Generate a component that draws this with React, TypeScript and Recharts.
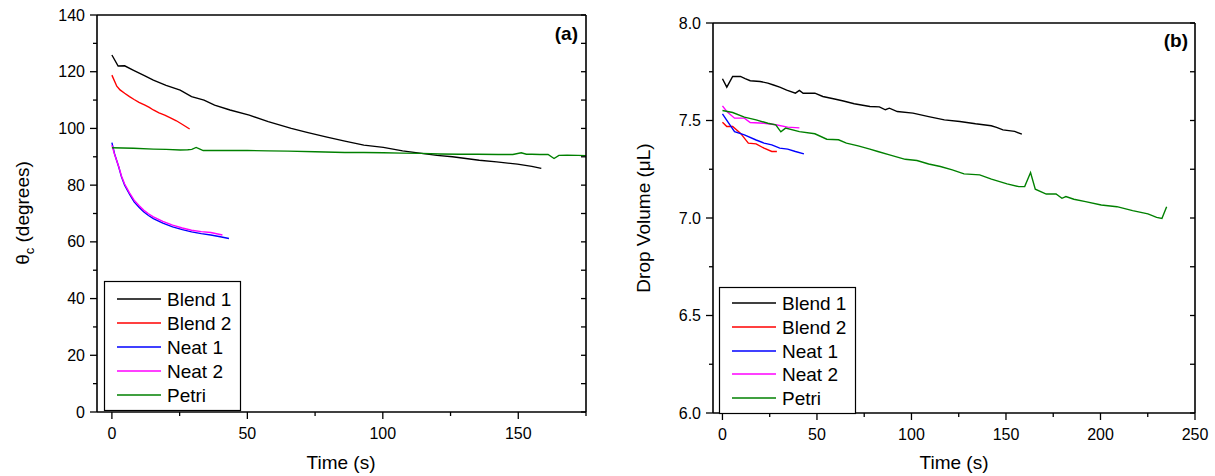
import React from "react";
import { LineChart, Line, XAxis, YAxis } from "recharts";

const FONT = "'Liberation Sans', Arial, Helvetica, sans-serif";

// ---- panel (a): contact angle vs time ----
const blend1AngleT = [0, 2.3, 4.7, 8, 12, 15.3, 20, 25.2, 29.4, 34, 37.9, 43.6, 50.7, 57.7, 66.2, 72, 79, 86, 93, 100.2, 107.3, 114.3, 120, 125.7, 135.6, 142, 149.7, 155, 158.5];
const blend1Angle = [125.9, 122, 122.1, 120.5, 118.6, 117, 115.2, 113.5, 111.2, 110, 108.2, 106.5, 104.7, 102.4, 100, 98.6, 97, 95.5, 94.1, 93.3, 92.1, 91.2, 90.5, 90, 88.8, 88.2, 87.4, 86.6, 85.9];

const blend2AngleT = [0, 1.8, 3, 4.7, 6.5, 8.2, 10, 12.2, 13.8, 15.3, 17.4, 19.5, 21.6, 23.8, 26.2, 28.7];
const blend2Angle = [118.8, 114.9, 113.6, 112.4, 111.2, 110.2, 109.2, 108.2, 107.4, 106.5, 105.5, 104.7, 103.7, 102.7, 101.3, 99.8];

const neat1AngleT = [0, 1, 2.5, 3.5, 4.7, 6.5, 8.2, 10, 11.7, 13.5, 15.3, 18.8, 22.4, 26, 29.4, 33, 36.5, 40, 43.2];
const neat1Angle = [95, 91, 86.5, 83, 80, 76.8, 74.1, 72.2, 70.6, 69.3, 68.2, 66.6, 65.3, 64.3, 63.5, 62.9, 62.4, 61.8, 61.2];

const neat2AngleT = [0, 1, 2.5, 3.5, 4.7, 6.5, 8.2, 10, 11.7, 13.5, 15.3, 18.8, 22.4, 26, 29.4, 33, 36.5, 40.8];
const neat2Angle = [94.1, 90.8, 86.6, 83.3, 80.4, 77.3, 74.7, 72.8, 71.2, 69.9, 68.8, 67.2, 65.9, 64.9, 64.1, 63.6, 63.3, 62.4];

const petriAngleT = [0, 8, 15.3, 20, 25.2, 28, 29.5, 31.1, 32.5, 33.7, 40, 50, 57.7, 65, 75, 86, 93, 100.2, 107, 114.3, 121, 128.5, 135, 142.6, 148, 151.1, 153, 155, 158, 161, 163.2, 165, 168, 172, 175];
const petriAngle = [93.2, 93, 92.7, 92.6, 92.4, 92.5, 92.6, 93.3, 92.7, 92.2, 92.2, 92.2, 92.1, 92, 91.8, 91.5, 91.5, 91.4, 91.3, 91.2, 91, 90.9, 90.9, 90.8, 90.8, 91.4, 90.9, 90.9, 90.8, 90.8, 89.4, 90.5, 90.6, 90.5, 90.4];

// ---- panel (b): drop volume vs time ----
const blend1VolT = [0, 2.3, 5.4, 9.5, 12, 14.7, 19.9, 24, 27, 30.3, 34, 38.6, 40.7, 42.7, 48.9, 53.1, 59.3, 64, 69.7, 78, 83, 86.2, 88.3, 92.5, 100.8, 109.1, 117.4, 125.6, 133.9, 142.2, 145, 148.4, 154.6, 158.4];
const blend1Vol = [7.714, 7.671, 7.726, 7.726, 7.715, 7.704, 7.7, 7.692, 7.682, 7.671, 7.656, 7.64, 7.654, 7.64, 7.64, 7.623, 7.61, 7.6, 7.586, 7.572, 7.57, 7.555, 7.563, 7.546, 7.538, 7.52, 7.503, 7.495, 7.483, 7.473, 7.465, 7.452, 7.444, 7.43];

const blend2VolT = [0, 2.3, 5.4, 9.5, 13.7, 17.8, 22, 26.1, 28.8];
const blend2Vol = [7.491, 7.469, 7.469, 7.435, 7.384, 7.38, 7.358, 7.341, 7.341];

const neat1VolT = [0, 3.3, 6.4, 11.6, 17.8, 22, 26.1, 30.3, 34.5, 38.6, 43.1];
const neat1Vol = [7.534, 7.486, 7.443, 7.426, 7.4, 7.384, 7.375, 7.358, 7.353, 7.341, 7.329];

const neat2VolT = [0, 2.3, 6.4, 11.6, 14.7, 22, 28.2, 34.5, 40.7];
const neat2Vol = [7.575, 7.546, 7.512, 7.512, 7.49, 7.486, 7.478, 7.466, 7.462];

const petriVolT = [0, 5.4, 11.6, 17.8, 24, 28.2, 30.9, 33.4, 40.7, 48.9, 55.2, 61.4, 65.6, 71.8, 78, 82.2, 88.4, 96.7, 102.9, 109.1, 115.3, 121.6, 127.8, 136.1, 142.3, 150.6, 156.8, 159.9, 163, 165.5, 171.3, 176.5, 179.6, 181.7, 185.9, 192.1, 200.4, 208.7, 217, 225.1, 229.7, 232.5, 235];
const petriVol = [7.551, 7.541, 7.517, 7.503, 7.486, 7.478, 7.442, 7.461, 7.443, 7.432, 7.404, 7.401, 7.384, 7.37, 7.353, 7.341, 7.324, 7.301, 7.295, 7.277, 7.264, 7.247, 7.226, 7.221, 7.199, 7.175, 7.161, 7.161, 7.233, 7.148, 7.123, 7.123, 7.101, 7.11, 7.096, 7.084, 7.067, 7.058, 7.038, 7.021, 7.003, 6.998, 7.058];

const seriesNames = ["Blend 1", "Blend 2", "Neat 1", "Neat 2", "Petri"];
const seriesColors = ["#000000", "#ff0000", "#0000ff", "#ff00ff", "#008000"];

const timeTicksA = [0, 25, 50, 75, 100, 125, 150, 175];
const timeLabelsA = [0, 50, 100, 150];
const angleTicks = [0, 10, 20, 30, 40, 50, 60, 70, 80, 90, 100, 110, 120, 130, 140];
const angleLabels = [0, 20, 40, 60, 80, 100, 120, 140];

const timeTicksB = [0, 25, 50, 75, 100, 125, 150, 175, 200, 225, 250];
const timeLabelsB = [0, 50, 100, 150, 200, 250];
const volTicks = [6.0, 6.25, 6.5, 6.75, 7.0, 7.25, 7.5, 7.75, 8.0];
const volLabels = [6.0, 6.5, 7.0, 7.5, 8.0];

const zip = (t: number[], v: number[]) => t.map((x, i) => ({ t: x, v: v[i] }));

const anglesData = [
  zip(blend1AngleT, blend1Angle),
  zip(blend2AngleT, blend2Angle),
  zip(neat1AngleT, neat1Angle),
  zip(neat2AngleT, neat2Angle),
  zip(petriAngleT, petriAngle),
];
const volumeData = [
  zip(blend1VolT, blend1Vol),
  zip(blend2VolT, blend2Vol),
  zip(neat1VolT, neat1Vol),
  zip(neat2VolT, neat2Vol),
  zip(petriVolT, petriVol),
];

const AXIS = { stroke: "#000", strokeWidth: 1.6 };
const TICK_TEXT = { fontSize: 16, fill: "#000", fontFamily: FONT };

// axis area sizes; the tick renderers draw from the axis line outward/inward themselves
const X_H = 40;
const Y_W = 50;
const FRAME = 10;

const bottomTick = (labels: number[], fmt: (v: number) => string) => (p: any) => {
  const major = labels.includes(p.payload.value);
  return (
    <g key={`b-${p.index}`}>
      <line x1={p.x} x2={p.x} y1={p.y} y2={p.y + (major ? 7 : 4)} stroke="#000" strokeWidth={1.3} />
      {major && (
        <text x={p.x} y={p.y + 26.5} textAnchor="middle" {...TICK_TEXT}>
          {fmt(p.payload.value)}
        </text>
      )}
    </g>
  );
};

const leftTick = (labels: number[], fmt: (v: number) => string) => (p: any) => {
  const major = labels.includes(p.payload.value);
  return (
    <g key={`l-${p.index}`}>
      <line x1={p.x} x2={p.x - (major ? 7 : 4)} y1={p.y} y2={p.y} stroke="#000" strokeWidth={1.3} />
      {major && (
        <text x={p.x - 12} y={p.y + 5.5} textAnchor="end" {...TICK_TEXT}>
          {fmt(p.payload.value)}
        </text>
      )}
    </g>
  );
};

// inner ticks for the top and right frame lines
const topTick = (p: any) => (
  <line key={`t-${p.index}`} x1={p.x} x2={p.x} y1={p.y} y2={p.y + 5} stroke="#000" strokeWidth={1.3} />
);
const rightTick = (p: any) => (
  <line key={`r-${p.index}`} x1={p.x} x2={p.x - 5} y1={p.y} y2={p.y} stroke="#000" strokeWidth={1.3} />
);

function LegendBox({ left, top, rows }: { left: number; top: number; rows: number[] }) {
  return (
    <svg
      width={137}
      height={rows[4] + 16}
      style={{ position: "absolute", left, top, overflow: "visible" }}
    >
      <rect x={0.5} y={0.5} width={136} height={rows[4] + 15} fill="#fff" stroke="#000" strokeWidth={1.2} />
      {seriesNames.map((name, i) => (
        <g key={name}>
          <line x1={13} x2={57} y1={rows[i]} y2={rows[i]} stroke={seriesColors[i]} strokeWidth={1.5} />
          <text x={63} y={rows[i] + 7} fontSize={19} fontFamily={FONT} fill="#000">
            {name}
          </text>
        </g>
      ))}
    </svg>
  );
}

function Panel({
  left, width, plot, data, xDomain, xTicks, xLabels, yDomain, yTicks, yLabels, yFmt,
}: any) {
  const margin = {
    top: plot.top - FRAME,
    left: plot.left - Y_W,
    right: plot.right - FRAME,
    bottom: plot.bottom - X_H,
  };
  return (
    <div style={{ position: "absolute", left, top: 0 }}>
      <LineChart width={width} height={476} margin={margin}>
        <XAxis
          xAxisId="b" dataKey="t" type="number" domain={xDomain} ticks={xTicks} interval={0}
          allowDataOverflow height={X_H} tickSize={0} tickMargin={0} axisLine={AXIS} tickLine={false}
          tick={bottomTick(xLabels, (v) => String(v))}
        />
        <XAxis
          xAxisId="top" orientation="top" type="number" domain={xDomain} ticks={xTicks} interval={0}
          allowDataOverflow height={FRAME} tickSize={0} tickMargin={0} axisLine={AXIS} tickLine={false}
          tick={topTick}
        />
        <YAxis
          yAxisId="l" type="number" domain={yDomain} ticks={yTicks} interval={0}
          allowDataOverflow width={Y_W} tickSize={0} tickMargin={0} axisLine={AXIS} tickLine={false}
          tick={leftTick(yLabels, yFmt)}
        />
        <YAxis
          yAxisId="r" orientation="right" type="number" domain={yDomain} ticks={yTicks} interval={0}
          allowDataOverflow width={FRAME} tickSize={0} tickMargin={0} axisLine={AXIS} tickLine={false}
          tick={rightTick}
        />
        {data.map((d: any[], i: number) => (
          <Line
            key={seriesNames[i]}
            xAxisId="b"
            yAxisId="l"
            data={d}
            dataKey="v"
            stroke={seriesColors[i]}
            strokeWidth={1.4}
            dot={false}
            activeDot={false}
            isAnimationActive={false}
          />
        ))}
      </LineChart>
    </div>
  );
}

export default function App() {
  return (
    <div
      style={{
        position: "absolute", left: 0, top: 0, width: 1215, height: 476,
        background: "#fff", fontFamily: FONT, overflow: "hidden",
      }}
    >
      <Panel
        left={0} width={600} plot={{ top: 15, left: 97, right: 14, bottom: 64 }}
        data={anglesData} xDomain={[-5.5, 175]} xTicks={timeTicksA} xLabels={timeLabelsA}
        yDomain={[0, 140]} yTicks={angleTicks} yLabels={angleLabels} yFmt={(v: number) => String(v)}
      />
      <Panel
        left={600} width={615} plot={{ top: 23, left: 113, right: 20, bottom: 63 }}
        data={volumeData} xDomain={[-5, 250]} xTicks={timeTicksB} xLabels={timeLabelsB}
        yDomain={[6, 8]} yTicks={volTicks} yLabels={volLabels} yFmt={(v: number) => v.toFixed(1)}
      />

      <LegendBox left={104} top={281} rows={[18, 42, 66, 90, 114]} />
      <LegendBox left={719} top={287} rows={[16, 40, 64, 87, 111]} />

      {/* titles and panel tags */}
      <svg width={1215} height={476} style={{ position: "absolute", left: 0, top: 0, pointerEvents: "none" }}>
        <text x={578} y={40} textAnchor="end" fontSize={19} fontWeight="bold" fontFamily={FONT}>(a)</text>
        <text x={1188} y={47} textAnchor="end" fontSize={19} fontWeight="bold" fontFamily={FONT}>(b)</text>
        <text x={341} y={469} textAnchor="middle" fontSize={19} fontFamily={FONT}>Time (s)</text>
        <text x={954} y={469} textAnchor="middle" fontSize={19} fontFamily={FONT}>Time (s)</text>
        <text
          transform="translate(29 213) rotate(-90)" textAnchor="middle" fontSize={19} fontFamily={FONT}
        >
          θ<tspan fontSize={13} dy={5}>c</tspan>
          <tspan dy={-5}> (degrees)</tspan>
        </text>
        <text
          transform="translate(650 218) rotate(-90)" textAnchor="middle" fontSize={19} fontFamily={FONT}
        >
          Drop Volume (μL)
        </text>
      </svg>
    </div>
  );
}
